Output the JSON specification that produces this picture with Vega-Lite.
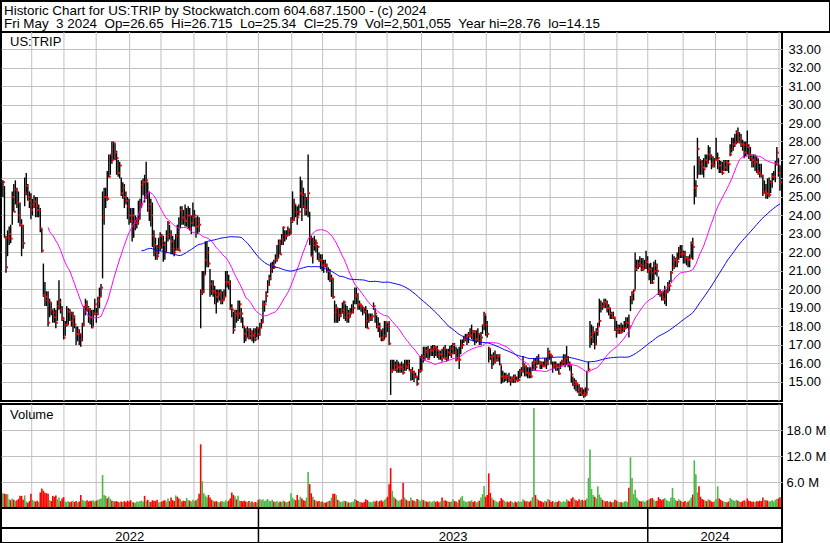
{
"$schema":"https://vega.github.io/schema/vega-lite/v6.json",
"padding":0,
"background":"white",
"spacing":0,
"bounds":"flush",
"config":{
"view":{"stroke":"black","strokeWidth":2},
"font":"Liberation Sans",
"axis":{"labelFont":"Liberation Sans","labelFontSize":13,"labelColor":"black","domain":false,"ticks":false,"gridColor":"#c0c0c0","gridWidth":1,"title":null,"labelOverlap":false,"labelBound":false},
"concat":{"spacing":0}
},
"datasets":{
"hdr":[{"n":1,"t":"Historic Chart for US:TRIP by Stockwatch.com 604.687.1500 - (c) 2024"},{"n":2,"t":"Fri May\u00a0 3 2024\u00a0 Op=26.65\u00a0 Hi=26.715\u00a0 Lo=25.34\u00a0 Cl=25.79\u00a0 Vol=2,501,055\u00a0 Year hi=28.76\u00a0 lo=14.15"}],
"mo":[{"g":18.5},{"g":39.2},{"g":59.9},{"g":81.4},{"g":101.5},{"g":122.7},{"g":143.8},{"g":164.1},{"g":185.5},{"g":205.3},{"g":226.7},{"g":246.7},{"g":268.8},{"g":289},{"g":310.4},{"g":332.1},{"g":351.4},{"g":373.3},{"g":394.3},{"g":414.1},{"g":436.8},{"g":457.6},{"g":477.8},{"g":498.4}],
"sep":[{"s":164.1},{"s":414.1}],
"yr":[{"y":"2022","m":81.4},{"y":"2023","m":289.1},{"y":"2024","m":457.3}],
"p":[
{"i":0,"h":25.9,"l":25.0,"c":25.8,"v":3.4},
{"i":1,"h":25.6,"l":22.8,"c":22.8,"v":3.3},
{"i":2,"h":22.9,"l":20.9,"c":21.2,"v":3.2},
{"i":3,"h":23.2,"l":21.8,"c":22.8,"v":3.2},
{"i":4,"h":23.4,"l":22.4,"c":23.0,"v":2.0},
{"i":5,"h":23.5,"l":22.5,"c":22.75,"v":1.8},
{"i":6,"h":25.3,"l":23.5,"c":25.0,"v":2.2},
{"i":7,"h":25.7,"l":24.2,"c":24.2,"v":1.9},
{"i":8,"h":25.9,"l":24.6,"c":25.4,"v":1.6},
{"i":9,"h":25.5,"l":24.4,"c":24.7,"v":1.8},
{"i":10,"h":25.3,"l":23.6,"c":24.0,"v":2.1},
{"i":11,"h":24.7,"l":23.4,"c":23.5,"v":2.8},
{"i":12,"h":23.8,"l":21.8,"c":23.4,"v":2.8},
{"i":13,"h":23.5,"l":22.2,"c":22.5,"v":1.9},
{"i":14,"h":26.05,"l":24.5,"c":25.2,"v":2.9},
{"i":15,"h":26.3,"l":25.1,"c":25.6,"v":1.5},
{"i":16,"h":25.7,"l":24.8,"c":25.0,"v":1.2},
{"i":17,"h":25.3,"l":24.4,"c":24.8,"v":1.6},
{"i":18,"h":25.2,"l":23.8,"c":24.3,"v":3.3},
{"i":19,"h":24.9,"l":24.0,"c":24.6,"v":1.9},
{"i":20,"h":25.1,"l":24.4,"c":24.75,"v":1.6},
{"i":21,"h":25.0,"l":23.9,"c":24.5,"v":1.5},
{"i":22,"h":25.0,"l":23.9,"c":24.3,"v":1.7},
{"i":23,"h":24.6,"l":23.9,"c":24.3,"v":1.4},
{"i":24,"h":24.4,"l":23.1,"c":23.3,"v":3.6},
{"i":25,"h":23.3,"l":22.0,"c":22.1,"v":4.5},
{"i":26,"h":21.4,"l":19.6,"c":19.7,"v":4.0},
{"i":27,"h":20.4,"l":19.1,"c":19.6,"v":3.5},
{"i":28,"h":19.9,"l":19.1,"c":19.4,"v":3.4},
{"i":29,"h":19.9,"l":18.0,"c":18.2,"v":3.3},
{"i":30,"h":19.5,"l":18.5,"c":19.3,"v":1.8},
{"i":31,"h":19.3,"l":18.6,"c":18.9,"v":1.6},
{"i":32,"h":18.9,"l":18.2,"c":18.75,"v":2.8},
{"i":33,"h":19.0,"l":18.2,"c":18.5,"v":2.6},
{"i":34,"h":18.9,"l":17.9,"c":18.2,"v":2.9},
{"i":35,"h":19.4,"l":18.3,"c":19.1,"v":2.0},
{"i":36,"h":20.5,"l":18.9,"c":19.3,"v":2.4},
{"i":37,"h":19.5,"l":18.7,"c":18.9,"v":1.6},
{"i":38,"h":19.1,"l":18.3,"c":18.4,"v":2.2},
{"i":39,"h":18.5,"l":17.3,"c":17.4,"v":2.5},
{"i":40,"h":18.3,"l":17.5,"c":18.1,"v":1.5},
{"i":41,"h":19.1,"l":18.0,"c":18.1,"v":1.4},
{"i":42,"h":19.0,"l":18.1,"c":18.8,"v":1.6},
{"i":43,"h":18.95,"l":18.3,"c":18.7,"v":1.3},
{"i":44,"h":18.8,"l":18.0,"c":18.3,"v":1.5},
{"i":45,"h":18.8,"l":17.7,"c":18.5,"v":1.7},
{"i":46,"h":18.6,"l":17.9,"c":18.1,"v":1.4},
{"i":47,"h":18.0,"l":17.0,"c":17.6,"v":1.6},
{"i":48,"h":18.0,"l":17.2,"c":17.8,"v":1.3},
{"i":49,"h":17.85,"l":17.0,"c":17.6,"v":1.5},
{"i":50,"h":17.6,"l":16.9,"c":17.3,"v":3.0},
{"i":51,"h":18.2,"l":17.2,"c":18.1,"v":1.9},
{"i":52,"h":19.1,"l":18.0,"c":19.07,"v":1.7},
{"i":53,"h":19.5,"l":18.6,"c":19.2,"v":1.6},
{"i":54,"h":19.4,"l":18.8,"c":19.0,"v":1.8},
{"i":55,"h":19.1,"l":18.2,"c":18.9,"v":1.5},
{"i":56,"h":19.0,"l":18.1,"c":18.5,"v":1.7},
{"i":57,"h":18.9,"l":17.9,"c":17.95,"v":1.6},
{"i":58,"h":18.9,"l":18.0,"c":18.7,"v":1.8},
{"i":59,"h":19.5,"l":18.6,"c":19.2,"v":1.5},
{"i":60,"h":19.0,"l":18.2,"c":18.7,"v":1.7},
{"i":61,"h":19.6,"l":18.6,"c":19.4,"v":1.9},
{"i":62,"h":20.1,"l":19.0,"c":19.6,"v":2.0},
{"i":63,"h":20.3,"l":19.6,"c":20.1,"v":2.2},
{"i":64,"h":25.3,"l":20.6,"c":23.9,"v":7.6},
{"i":65,"h":25.5,"l":23.5,"c":25.0,"v":3.0},
{"i":66,"h":25.5,"l":24.4,"c":25.0,"v":2.8},
{"i":67,"h":26.4,"l":24.8,"c":24.9,"v":2.2},
{"i":68,"h":27.3,"l":26.05,"c":26.1,"v":2.6},
{"i":69,"h":27.3,"l":26.2,"c":27.3,"v":2.1},
{"i":70,"h":28.0,"l":26.8,"c":27.0,"v":1.7},
{"i":71,"h":28.0,"l":27.0,"c":27.9,"v":1.6},
{"i":72,"h":27.9,"l":27.0,"c":27.4,"v":1.5},
{"i":73,"h":27.5,"l":26.2,"c":27.1,"v":1.6},
{"i":74,"h":27.0,"l":26.1,"c":26.3,"v":1.4},
{"i":75,"h":26.9,"l":26.0,"c":26.7,"v":1.3},
{"i":76,"h":26.05,"l":25.06,"c":25.2,"v":1.5},
{"i":77,"h":25.8,"l":24.9,"c":25.5,"v":1.4},
{"i":78,"h":25.7,"l":24.4,"c":25.0,"v":1.6},
{"i":79,"h":25.3,"l":24.6,"c":24.8,"v":1.3},
{"i":80,"h":25.0,"l":23.8,"c":24.5,"v":1.7},
{"i":81,"h":24.9,"l":23.5,"c":24.0,"v":1.5},
{"i":82,"h":24.4,"l":23.6,"c":23.7,"v":1.8},
{"i":83,"h":24.4,"l":22.6,"c":24.0,"v":1.4},
{"i":84,"h":24.4,"l":22.8,"c":23.4,"v":1.3},
{"i":85,"h":24.0,"l":23.2,"c":23.6,"v":1.2},
{"i":86,"h":23.9,"l":23.3,"c":23.6,"v":1.5},
{"i":87,"h":24.8,"l":23.5,"c":23.8,"v":1.4},
{"i":88,"h":24.9,"l":23.8,"c":24.6,"v":1.6},
{"i":89,"h":25.9,"l":24.4,"c":25.65,"v":1.7},
{"i":90,"h":26.0,"l":25.1,"c":25.8,"v":1.5},
{"i":91,"h":26.2,"l":24.7,"c":25.0,"v":2.8},
{"i":92,"h":26.9,"l":24.9,"c":25.9,"v":1.6},
{"i":93,"h":25.8,"l":24.2,"c":24.4,"v":1.9},
{"i":94,"h":25.3,"l":23.7,"c":24.6,"v":1.5},
{"i":95,"h":24.9,"l":23.4,"c":24.0,"v":1.4},
{"i":96,"h":24.7,"l":22.3,"c":22.9,"v":1.8},
{"i":97,"h":23.2,"l":21.8,"c":22.4,"v":1.7},
{"i":98,"h":22.8,"l":21.6,"c":22.0,"v":1.6},
{"i":99,"h":22.4,"l":21.6,"c":21.8,"v":1.9},
{"i":100,"h":22.8,"l":21.9,"c":22.3,"v":1.3},
{"i":101,"h":23.1,"l":22.1,"c":22.9,"v":1.4},
{"i":102,"h":23.0,"l":22.2,"c":22.6,"v":1.5},
{"i":103,"h":22.9,"l":21.5,"c":22.4,"v":1.7},
{"i":104,"h":22.6,"l":21.6,"c":22.0,"v":1.8},
{"i":105,"h":23.2,"l":22.0,"c":22.9,"v":1.5},
{"i":106,"h":23.7,"l":22.6,"c":23.6,"v":2.2},
{"i":107,"h":23.5,"l":22.7,"c":23.0,"v":1.6},
{"i":108,"h":23.2,"l":21.9,"c":22.6,"v":2.4},
{"i":109,"h":22.9,"l":21.9,"c":22.2,"v":1.8},
{"i":110,"h":22.7,"l":21.8,"c":22.0,"v":1.6},
{"i":111,"h":23.0,"l":22.1,"c":22.9,"v":2.9},
{"i":112,"h":23.5,"l":22.1,"c":22.2,"v":2.6},
{"i":113,"h":23.9,"l":22.1,"c":22.1,"v":2.2},
{"i":114,"h":24.5,"l":23.3,"c":24.3,"v":2.0},
{"i":115,"h":24.5,"l":23.5,"c":23.9,"v":1.5},
{"i":116,"h":24.3,"l":23.5,"c":23.8,"v":1.7},
{"i":117,"h":24.6,"l":23.4,"c":23.7,"v":1.6},
{"i":118,"h":24.4,"l":23.4,"c":24.0,"v":2.3},
{"i":119,"h":24.5,"l":23.3,"c":24.0,"v":1.8},
{"i":120,"h":24.4,"l":23.2,"c":23.3,"v":1.7},
{"i":121,"h":24.0,"l":23.0,"c":23.6,"v":1.5},
{"i":122,"h":24.7,"l":23.4,"c":23.9,"v":1.9},
{"i":123,"h":24.3,"l":23.4,"c":24.0,"v":1.6},
{"i":124,"h":23.9,"l":22.8,"c":23.4,"v":1.8},
{"i":125,"h":24.0,"l":23.0,"c":23.7,"v":2.2},
{"i":126,"h":23.9,"l":23.1,"c":23.5,"v":3.3},
{"i":127,"h":20.0,"l":17.9,"c":19.8,"v":14.7},
{"i":128,"h":21.0,"l":19.7,"c":19.9,"v":6.2},
{"i":129,"h":21.0,"l":19.8,"c":20.8,"v":3.4},
{"i":130,"h":22.6,"l":20.8,"c":21.6,"v":2.9},
{"i":131,"h":22.6,"l":21.2,"c":22.0,"v":2.5},
{"i":132,"h":22.3,"l":21.2,"c":21.4,"v":3.0},
{"i":133,"h":21.1,"l":19.6,"c":20.3,"v":2.4},
{"i":134,"h":20.5,"l":19.7,"c":19.9,"v":1.9},
{"i":135,"h":20.5,"l":19.6,"c":19.9,"v":1.7},
{"i":136,"h":20.2,"l":19.2,"c":19.8,"v":1.5},
{"i":137,"h":20.0,"l":18.7,"c":19.6,"v":1.6},
{"i":138,"h":20.0,"l":19.3,"c":19.7,"v":1.4},
{"i":139,"h":20.0,"l":19.4,"c":19.8,"v":1.3},
{"i":140,"h":20.0,"l":19.2,"c":19.4,"v":1.5},
{"i":141,"h":19.9,"l":19.2,"c":19.4,"v":1.6},
{"i":142,"h":20.0,"l":19.4,"c":19.6,"v":1.4},
{"i":143,"h":21.0,"l":19.6,"c":20.4,"v":1.8},
{"i":144,"h":21.0,"l":20.1,"c":20.4,"v":1.5},
{"i":145,"h":20.8,"l":20.0,"c":20.3,"v":1.7},
{"i":146,"h":20.5,"l":18.9,"c":19.0,"v":2.2},
{"i":147,"h":19.2,"l":18.5,"c":18.9,"v":3.6},
{"i":148,"h":18.8,"l":17.6,"c":17.8,"v":3.0},
{"i":149,"h":18.9,"l":17.9,"c":18.7,"v":2.7},
{"i":150,"h":18.9,"l":18.2,"c":18.6,"v":2.0},
{"i":151,"h":19.4,"l":18.3,"c":18.7,"v":2.8},
{"i":152,"h":19.4,"l":18.4,"c":19.2,"v":1.7},
{"i":153,"h":19.0,"l":18.2,"c":18.7,"v":1.6},
{"i":154,"h":18.5,"l":17.9,"c":18.0,"v":1.5},
{"i":155,"h":18.0,"l":17.1,"c":17.6,"v":1.7},
{"i":156,"h":17.9,"l":17.2,"c":17.4,"v":1.5},
{"i":157,"h":18.0,"l":17.4,"c":17.8,"v":1.4},
{"i":158,"h":17.9,"l":17.3,"c":17.5,"v":1.6},
{"i":159,"h":17.9,"l":17.3,"c":17.7,"v":1.3},
{"i":160,"h":17.8,"l":17.2,"c":17.5,"v":1.5},
{"i":161,"h":17.9,"l":17.1,"c":17.6,"v":1.2},
{"i":162,"h":17.9,"l":17.2,"c":17.3,"v":1.4},
{"i":163,"h":18.0,"l":17.4,"c":17.9,"v":1.3},
{"i":164,"h":17.95,"l":17.3,"c":17.6,"v":1.9},
{"i":165,"h":18.2,"l":17.5,"c":17.94,"v":2.1},
{"i":166,"h":18.4,"l":17.9,"c":18.2,"v":1.8},
{"i":167,"h":19.4,"l":18.2,"c":19.2,"v":2.0},
{"i":168,"h":19.4,"l":18.8,"c":19.2,"v":1.6},
{"i":169,"h":19.9,"l":19.3,"c":19.65,"v":1.8},
{"i":170,"h":20.5,"l":19.8,"c":20.25,"v":2.1},
{"i":171,"h":20.8,"l":20.2,"c":20.6,"v":1.7},
{"i":172,"h":21.45,"l":20.5,"c":21.1,"v":1.6},
{"i":173,"h":21.5,"l":20.9,"c":21.3,"v":1.9},
{"i":174,"h":21.6,"l":21.1,"c":21.2,"v":1.5},
{"i":175,"h":21.9,"l":21.4,"c":21.6,"v":1.4},
{"i":176,"h":22.4,"l":21.5,"c":21.7,"v":1.6},
{"i":177,"h":22.7,"l":21.7,"c":22.5,"v":1.3},
{"i":178,"h":22.7,"l":21.9,"c":21.9,"v":1.5},
{"i":179,"h":23.0,"l":22.4,"c":22.7,"v":1.4},
{"i":180,"h":23.4,"l":22.4,"c":23.35,"v":1.7},
{"i":181,"h":23.2,"l":22.6,"c":22.9,"v":1.5},
{"i":182,"h":23.2,"l":22.7,"c":22.9,"v":1.3},
{"i":183,"h":23.4,"l":22.9,"c":23.2,"v":1.4},
{"i":184,"h":23.3,"l":22.9,"c":23.0,"v":1.6},
{"i":185,"h":23.9,"l":23.0,"c":23.7,"v":3.4},
{"i":186,"h":25.3,"l":23.6,"c":23.8,"v":2.4},
{"i":187,"h":24.9,"l":23.7,"c":24.6,"v":2.0},
{"i":188,"h":24.6,"l":23.9,"c":24.2,"v":1.8},
{"i":189,"h":24.5,"l":23.5,"c":23.9,"v":3.0},
{"i":190,"h":24.6,"l":24.0,"c":24.2,"v":1.9},
{"i":191,"h":26.1,"l":24.4,"c":25.2,"v":2.6},
{"i":192,"h":25.9,"l":23.7,"c":25.1,"v":2.2},
{"i":193,"h":25.5,"l":24.4,"c":24.5,"v":1.8},
{"i":194,"h":25.2,"l":24.0,"c":24.3,"v":1.7},
{"i":195,"h":25.0,"l":24.0,"c":24.9,"v":2.4},
{"i":196,"h":27.3,"l":23.9,"c":25.2,"v":8.3},
{"i":197,"h":24.2,"l":22.4,"c":22.8,"v":5.5},
{"i":198,"h":22.9,"l":21.8,"c":21.8,"v":3.4},
{"i":199,"h":22.8,"l":21.4,"c":22.6,"v":2.6},
{"i":200,"h":22.9,"l":22.1,"c":22.4,"v":1.9},
{"i":201,"h":22.7,"l":22.0,"c":22.5,"v":1.7},
{"i":202,"h":22.4,"l":21.6,"c":22.3,"v":1.5},
{"i":203,"h":22.0,"l":21.5,"c":21.6,"v":1.6},
{"i":204,"h":21.9,"l":21.1,"c":21.6,"v":1.4},
{"i":205,"h":21.9,"l":21.0,"c":21.3,"v":1.5},
{"i":206,"h":21.6,"l":20.9,"c":21.4,"v":1.3},
{"i":207,"h":21.6,"l":21.2,"c":21.3,"v":1.2},
{"i":208,"h":21.4,"l":20.9,"c":21.0,"v":1.4},
{"i":209,"h":21.2,"l":20.5,"c":21.0,"v":1.6},
{"i":210,"h":21.1,"l":20.4,"c":20.6,"v":1.7},
{"i":211,"h":20.8,"l":19.6,"c":20.6,"v":2.4},
{"i":212,"h":20.6,"l":19.5,"c":19.6,"v":3.3},
{"i":213,"h":19.4,"l":18.2,"c":18.75,"v":3.3},
{"i":214,"h":19.2,"l":18.2,"c":19.0,"v":3.0},
{"i":215,"h":19.0,"l":18.2,"c":18.6,"v":1.9},
{"i":216,"h":19.0,"l":18.3,"c":18.6,"v":1.6},
{"i":217,"h":19.0,"l":18.5,"c":18.75,"v":1.4},
{"i":218,"h":19.3,"l":18.7,"c":18.9,"v":1.5},
{"i":219,"h":19.4,"l":18.4,"c":19.3,"v":1.7},
{"i":220,"h":19.2,"l":18.3,"c":18.5,"v":1.6},
{"i":221,"h":19.1,"l":18.2,"c":18.7,"v":1.4},
{"i":222,"h":18.9,"l":18.2,"c":18.5,"v":1.3},
{"i":223,"h":19.0,"l":18.5,"c":18.7,"v":1.2},
{"i":224,"h":19.2,"l":18.7,"c":18.8,"v":1.4},
{"i":225,"h":19.4,"l":18.7,"c":19.0,"v":1.5},
{"i":226,"h":20.1,"l":19.2,"c":19.7,"v":2.1},
{"i":227,"h":20.1,"l":19.2,"c":19.6,"v":1.8},
{"i":228,"h":19.8,"l":18.9,"c":19.2,"v":1.6},
{"i":229,"h":19.4,"l":18.9,"c":19.2,"v":1.4},
{"i":230,"h":19.2,"l":18.8,"c":19.1,"v":1.3},
{"i":231,"h":19.1,"l":18.6,"c":19.0,"v":1.2},
{"i":232,"h":19.0,"l":18.7,"c":18.8,"v":1.4},
{"i":233,"h":19.1,"l":17.9,"c":18.3,"v":2.0},
{"i":234,"h":18.9,"l":17.9,"c":17.9,"v":1.8},
{"i":235,"h":18.7,"l":18.2,"c":18.4,"v":1.5},
{"i":236,"h":18.7,"l":18.3,"c":18.5,"v":1.4},
{"i":237,"h":18.7,"l":18.3,"c":18.55,"v":1.3},
{"i":238,"h":19.3,"l":18.9,"c":19.1,"v":1.6},
{"i":239,"h":19.0,"l":18.2,"c":18.7,"v":1.5},
{"i":240,"h":18.6,"l":17.9,"c":18.0,"v":1.7},
{"i":241,"h":18.5,"l":17.7,"c":18.0,"v":1.4},
{"i":242,"h":18.2,"l":17.4,"c":17.8,"v":1.6},
{"i":243,"h":17.8,"l":17.2,"c":17.4,"v":1.8},
{"i":244,"h":17.9,"l":17.2,"c":17.3,"v":1.5},
{"i":245,"h":18.3,"l":17.3,"c":17.5,"v":1.9},
{"i":246,"h":18.3,"l":17.4,"c":18.2,"v":2.2},
{"i":247,"h":18.2,"l":17.7,"c":18.0,"v":2.6},
{"i":248,"h":18.3,"l":17.0,"c":17.07,"v":5.5},
{"i":249,"h":16.2,"l":14.3,"c":15.6,"v":9.2},
{"i":250,"h":16.2,"l":15.5,"c":15.65,"v":4.0},
{"i":251,"h":16.2,"l":15.6,"c":15.9,"v":2.6},
{"i":252,"h":16.1,"l":15.6,"c":15.7,"v":2.2},
{"i":253,"h":16.2,"l":15.5,"c":15.8,"v":1.9},
{"i":254,"h":16.1,"l":15.5,"c":15.8,"v":1.6},
{"i":255,"h":16.0,"l":15.5,"c":15.8,"v":1.8},
{"i":256,"h":16.1,"l":15.5,"c":15.7,"v":2.0},
{"i":257,"h":16.0,"l":15.4,"c":15.5,"v":5.8},
{"i":258,"h":16.2,"l":15.6,"c":15.9,"v":2.4},
{"i":259,"h":16.2,"l":15.6,"c":15.8,"v":1.9},
{"i":260,"h":16.2,"l":15.7,"c":16.0,"v":1.7},
{"i":261,"h":16.2,"l":15.6,"c":15.6,"v":1.6},
{"i":262,"h":15.7,"l":15.06,"c":15.6,"v":2.4},
{"i":263,"h":15.8,"l":15.1,"c":15.5,"v":1.8},
{"i":264,"h":15.6,"l":15.0,"c":15.3,"v":1.7},
{"i":265,"h":15.5,"l":15.2,"c":15.3,"v":1.5},
{"i":266,"h":15.3,"l":14.8,"c":14.9,"v":2.1},
{"i":267,"h":15.7,"l":15.1,"c":15.6,"v":1.9},
{"i":268,"h":16.4,"l":15.5,"c":15.6,"v":1.6},
{"i":269,"h":16.5,"l":15.6,"c":16.4,"v":2.0},
{"i":270,"h":16.9,"l":16.05,"c":16.2,"v":1.8},
{"i":271,"h":16.9,"l":16.2,"c":16.7,"v":1.7},
{"i":272,"h":16.9,"l":16.3,"c":16.6,"v":1.5},
{"i":273,"h":16.95,"l":16.2,"c":16.25,"v":1.4},
{"i":274,"h":16.8,"l":16.3,"c":16.7,"v":1.6},
{"i":275,"h":16.95,"l":16.4,"c":16.7,"v":1.3},
{"i":276,"h":17.0,"l":16.4,"c":16.8,"v":1.5},
{"i":277,"h":17.0,"l":16.3,"c":16.9,"v":1.7},
{"i":278,"h":16.95,"l":16.4,"c":16.8,"v":1.4},
{"i":279,"h":16.95,"l":16.3,"c":16.7,"v":1.6},
{"i":280,"h":16.7,"l":16.2,"c":16.5,"v":1.3},
{"i":281,"h":16.7,"l":16.2,"c":16.5,"v":1.5},
{"i":282,"h":16.8,"l":16.1,"c":16.3,"v":2.4},
{"i":283,"h":16.9,"l":16.3,"c":16.8,"v":1.7},
{"i":284,"h":17.0,"l":16.2,"c":16.3,"v":1.8},
{"i":285,"h":16.8,"l":16.1,"c":16.2,"v":1.6},
{"i":286,"h":16.8,"l":16.2,"c":16.6,"v":1.5},
{"i":287,"h":16.95,"l":16.4,"c":16.5,"v":1.4},
{"i":288,"h":17.0,"l":16.3,"c":16.8,"v":1.5},
{"i":289,"h":17.1,"l":16.5,"c":17.0,"v":2.0},
{"i":290,"h":17.1,"l":16.5,"c":16.6,"v":1.6},
{"i":291,"h":16.9,"l":16.1,"c":16.2,"v":1.5},
{"i":292,"h":16.8,"l":16.2,"c":16.3,"v":1.3},
{"i":293,"h":16.9,"l":15.7,"c":16.2,"v":1.9},
{"i":294,"h":17.3,"l":16.5,"c":16.9,"v":2.4},
{"i":295,"h":17.3,"l":16.8,"c":17.0,"v":2.8},
{"i":296,"h":17.5,"l":17.1,"c":17.3,"v":1.7},
{"i":297,"h":17.6,"l":17.2,"c":17.4,"v":1.5},
{"i":298,"h":17.6,"l":17.0,"c":17.5,"v":1.4},
{"i":299,"h":17.7,"l":17.1,"c":17.6,"v":1.6},
{"i":300,"h":17.9,"l":17.4,"c":17.5,"v":1.5},
{"i":301,"h":18.1,"l":17.3,"c":17.76,"v":1.8},
{"i":302,"h":17.8,"l":17.2,"c":17.7,"v":1.4},
{"i":303,"h":17.8,"l":17.0,"c":17.3,"v":1.6},
{"i":304,"h":17.8,"l":17.1,"c":17.3,"v":1.3},
{"i":305,"h":17.9,"l":17.2,"c":17.6,"v":1.5},
{"i":306,"h":17.6,"l":17.0,"c":17.2,"v":1.7},
{"i":307,"h":17.7,"l":17.0,"c":17.4,"v":2.4},
{"i":308,"h":18.1,"l":17.6,"c":18.07,"v":3.2},
{"i":309,"h":18.8,"l":17.8,"c":18.66,"v":5.1},
{"i":310,"h":18.6,"l":17.5,"c":18.1,"v":2.6},
{"i":311,"h":18.3,"l":17.4,"c":17.6,"v":3.0},
{"i":312,"h":16.9,"l":16.05,"c":16.8,"v":8.0},
{"i":313,"h":16.8,"l":16.2,"c":16.35,"v":3.5},
{"i":314,"h":16.5,"l":15.7,"c":16.4,"v":2.4},
{"i":315,"h":16.6,"l":15.9,"c":16.1,"v":1.9},
{"i":316,"h":16.7,"l":16.0,"c":16.2,"v":1.7},
{"i":317,"h":16.5,"l":16.1,"c":16.4,"v":1.5},
{"i":318,"h":16.5,"l":16.1,"c":16.4,"v":1.3},
{"i":319,"h":16.5,"l":15.9,"c":15.95,"v":1.6},
{"i":320,"h":15.9,"l":14.9,"c":15.3,"v":2.3},
{"i":321,"h":15.6,"l":14.95,"c":15.2,"v":1.9},
{"i":322,"h":15.5,"l":15.0,"c":15.3,"v":1.7},
{"i":323,"h":15.5,"l":15.05,"c":15.3,"v":1.4},
{"i":324,"h":15.4,"l":14.95,"c":15.2,"v":1.5},
{"i":325,"h":15.5,"l":15.0,"c":15.1,"v":1.3},
{"i":326,"h":15.3,"l":14.8,"c":15.06,"v":1.6},
{"i":327,"h":15.3,"l":14.95,"c":15.2,"v":1.4},
{"i":328,"h":15.4,"l":14.95,"c":15.3,"v":1.2},
{"i":329,"h":15.4,"l":14.95,"c":15.1,"v":1.5},
{"i":330,"h":15.3,"l":15.05,"c":15.05,"v":1.3},
{"i":331,"h":15.6,"l":15.05,"c":15.1,"v":1.6},
{"i":332,"h":15.7,"l":15.2,"c":15.56,"v":1.4},
{"i":333,"h":15.8,"l":15.3,"c":15.6,"v":1.5},
{"i":334,"h":16.4,"l":15.5,"c":15.9,"v":2.0},
{"i":335,"h":16.0,"l":15.3,"c":15.8,"v":1.7},
{"i":336,"h":15.9,"l":15.3,"c":15.5,"v":1.5},
{"i":337,"h":15.8,"l":15.2,"c":15.5,"v":1.6},
{"i":338,"h":15.8,"l":15.2,"c":15.4,"v":1.4},
{"i":339,"h":15.8,"l":15.2,"c":15.3,"v":1.7},
{"i":340,"h":16.1,"l":15.6,"c":16.0,"v":2.5},
{"i":341,"h":16.3,"l":15.6,"c":16.1,"v":23.1},
{"i":342,"h":16.3,"l":15.6,"c":15.8,"v":3.0},
{"i":343,"h":16.4,"l":15.9,"c":16.3,"v":2.2},
{"i":344,"h":16.5,"l":15.95,"c":16.1,"v":1.8},
{"i":345,"h":16.1,"l":15.7,"c":16.0,"v":1.6},
{"i":346,"h":16.1,"l":15.7,"c":15.9,"v":1.5},
{"i":347,"h":16.1,"l":15.8,"c":15.86,"v":1.3},
{"i":348,"h":16.3,"l":15.8,"c":16.1,"v":1.7},
{"i":349,"h":16.3,"l":15.7,"c":16.0,"v":1.5},
{"i":350,"h":16.85,"l":15.9,"c":16.58,"v":2.1},
{"i":351,"h":16.7,"l":16.2,"c":16.5,"v":1.8},
{"i":352,"h":16.5,"l":15.95,"c":16.4,"v":1.4},
{"i":353,"h":16.1,"l":15.5,"c":15.8,"v":1.6},
{"i":354,"h":16.1,"l":15.7,"c":15.9,"v":1.3},
{"i":355,"h":16.1,"l":15.6,"c":15.9,"v":1.5},
{"i":356,"h":16.0,"l":15.6,"c":15.8,"v":1.4},
{"i":357,"h":16.0,"l":15.4,"c":15.45,"v":1.7},
{"i":358,"h":16.1,"l":15.7,"c":15.9,"v":1.5},
{"i":359,"h":16.2,"l":15.9,"c":16.1,"v":1.3},
{"i":360,"h":16.5,"l":15.9,"c":16.1,"v":1.6},
{"i":361,"h":16.5,"l":15.8,"c":16.3,"v":1.4},
{"i":362,"h":16.94,"l":15.9,"c":16.35,"v":2.0},
{"i":363,"h":16.4,"l":15.8,"c":16.0,"v":1.7},
{"i":364,"h":16.1,"l":15.6,"c":15.9,"v":1.5},
{"i":365,"h":15.9,"l":14.96,"c":15.4,"v":2.2},
{"i":366,"h":15.3,"l":14.78,"c":14.87,"v":2.5},
{"i":367,"h":15.2,"l":14.6,"c":15.0,"v":2.1},
{"i":368,"h":15.1,"l":14.5,"c":14.9,"v":1.8},
{"i":369,"h":14.96,"l":14.42,"c":14.6,"v":1.6},
{"i":370,"h":14.87,"l":14.24,"c":14.42,"v":2.0},
{"i":371,"h":14.7,"l":14.24,"c":14.6,"v":1.7},
{"i":372,"h":14.7,"l":14.24,"c":14.3,"v":1.9},
{"i":373,"h":14.6,"l":14.15,"c":14.4,"v":1.6},
{"i":374,"h":14.7,"l":14.2,"c":14.3,"v":1.8},
{"i":375,"h":15.6,"l":14.33,"c":14.6,"v":2.2},
{"i":376,"h":16.1,"l":15.6,"c":15.68,"v":6.9},
{"i":377,"h":18.3,"l":16.85,"c":17.43,"v":13.5},
{"i":378,"h":18.1,"l":17.0,"c":17.6,"v":4.4},
{"i":379,"h":18.0,"l":17.1,"c":17.7,"v":3.0},
{"i":380,"h":17.75,"l":16.76,"c":17.03,"v":2.6},
{"i":381,"h":17.9,"l":17.0,"c":17.75,"v":2.2},
{"i":382,"h":18.2,"l":17.5,"c":18.0,"v":5.0},
{"i":383,"h":19.5,"l":18.0,"c":18.3,"v":3.1},
{"i":384,"h":19.4,"l":18.75,"c":19.1,"v":2.4},
{"i":385,"h":19.3,"l":18.9,"c":19.05,"v":1.9},
{"i":386,"h":19.5,"l":19.0,"c":19.3,"v":1.7},
{"i":387,"h":19.5,"l":19.0,"c":19.2,"v":1.5},
{"i":388,"h":19.4,"l":18.75,"c":19.0,"v":1.6},
{"i":389,"h":19.2,"l":18.6,"c":19.0,"v":1.4},
{"i":390,"h":19.0,"l":18.4,"c":18.7,"v":1.5},
{"i":391,"h":18.8,"l":18.4,"c":18.5,"v":1.3},
{"i":392,"h":18.8,"l":18.4,"c":18.5,"v":1.4},
{"i":393,"h":18.5,"l":17.75,"c":17.84,"v":1.9},
{"i":394,"h":18.3,"l":17.4,"c":17.7,"v":1.7},
{"i":395,"h":18.1,"l":17.6,"c":17.85,"v":1.5},
{"i":396,"h":18.1,"l":17.6,"c":17.9,"v":1.3},
{"i":397,"h":18.2,"l":17.6,"c":17.7,"v":1.4},
{"i":398,"h":18.1,"l":17.7,"c":17.85,"v":1.2},
{"i":399,"h":18.3,"l":17.7,"c":17.9,"v":1.5},
{"i":400,"h":18.5,"l":17.85,"c":18.2,"v":1.6},
{"i":401,"h":18.5,"l":17.9,"c":18.2,"v":1.4},
{"i":402,"h":18.65,"l":17.4,"c":18.0,"v":4.7},
{"i":403,"h":19.65,"l":18.83,"c":19.55,"v":11.7},
{"i":404,"h":19.9,"l":19.2,"c":19.8,"v":6.9},
{"i":405,"h":20.0,"l":19.4,"c":19.95,"v":3.2},
{"i":406,"h":22.0,"l":20.0,"c":21.1,"v":4.2},
{"i":407,"h":21.6,"l":21.0,"c":21.27,"v":2.4},
{"i":408,"h":21.6,"l":21.1,"c":21.4,"v":1.9},
{"i":409,"h":21.8,"l":21.2,"c":21.3,"v":1.6},
{"i":410,"h":21.7,"l":21.0,"c":21.1,"v":1.5},
{"i":411,"h":21.7,"l":21.0,"c":21.1,"v":1.7},
{"i":412,"h":21.6,"l":21.1,"c":21.3,"v":1.4},
{"i":413,"h":22.1,"l":21.1,"c":21.5,"v":1.6},
{"i":414,"h":21.8,"l":20.9,"c":21.0,"v":1.8},
{"i":415,"h":21.4,"l":20.5,"c":21.1,"v":2.0},
{"i":416,"h":21.45,"l":20.3,"c":20.9,"v":2.2},
{"i":417,"h":21.2,"l":20.3,"c":20.37,"v":2.3},
{"i":418,"h":21.5,"l":20.5,"c":21.0,"v":1.9},
{"i":419,"h":21.6,"l":20.8,"c":21.3,"v":1.6},
{"i":420,"h":21.4,"l":20.7,"c":21.0,"v":1.7},
{"i":421,"h":20.7,"l":19.7,"c":19.9,"v":2.5},
{"i":422,"h":20.0,"l":19.6,"c":19.8,"v":2.1},
{"i":423,"h":19.9,"l":19.4,"c":19.6,"v":1.8},
{"i":424,"h":19.9,"l":19.4,"c":19.47,"v":2.0},
{"i":425,"h":20.2,"l":19.2,"c":19.8,"v":2.3},
{"i":426,"h":20.0,"l":19.1,"c":19.9,"v":1.9},
{"i":427,"h":20.4,"l":19.8,"c":20.2,"v":1.7},
{"i":428,"h":20.5,"l":19.9,"c":20.2,"v":1.5},
{"i":429,"h":21.0,"l":20.4,"c":20.9,"v":2.4},
{"i":430,"h":21.9,"l":21.0,"c":21.2,"v":4.6},
{"i":431,"h":21.8,"l":21.1,"c":21.6,"v":2.3},
{"i":432,"h":21.7,"l":21.2,"c":21.7,"v":1.8},
{"i":433,"h":22.0,"l":21.2,"c":21.5,"v":1.6},
{"i":434,"h":22.3,"l":21.6,"c":22.1,"v":2.0},
{"i":435,"h":22.4,"l":21.7,"c":21.9,"v":1.7},
{"i":436,"h":22.4,"l":21.7,"c":21.95,"v":1.5},
{"i":437,"h":22.1,"l":21.4,"c":21.9,"v":1.4},
{"i":438,"h":22.1,"l":21.4,"c":21.7,"v":1.6},
{"i":439,"h":21.8,"l":21.3,"c":21.7,"v":1.3},
{"i":440,"h":21.8,"l":21.2,"c":21.6,"v":1.5},
{"i":441,"h":21.9,"l":21.2,"c":21.7,"v":1.8},
{"i":442,"h":22.6,"l":21.7,"c":22.5,"v":2.4},
{"i":443,"h":22.8,"l":21.6,"c":22.3,"v":3.1},
{"i":444,"h":26.7,"l":24.6,"c":25.5,"v":11.0},
{"i":445,"h":25.9,"l":25.0,"c":25.6,"v":7.8},
{"i":446,"h":28.2,"l":26.0,"c":27.6,"v":3.6},
{"i":447,"h":27.2,"l":26.2,"c":27.0,"v":5.0},
{"i":448,"h":27.0,"l":26.2,"c":26.77,"v":2.6},
{"i":449,"h":27.0,"l":26.2,"c":26.6,"v":2.1},
{"i":450,"h":27.1,"l":26.05,"c":26.5,"v":1.9},
{"i":451,"h":27.3,"l":26.6,"c":27.0,"v":1.7},
{"i":452,"h":27.3,"l":26.6,"c":26.9,"v":1.6},
{"i":453,"h":27.8,"l":26.8,"c":27.3,"v":2.0},
{"i":454,"h":27.7,"l":27.0,"c":27.2,"v":1.8},
{"i":455,"h":27.3,"l":26.5,"c":26.8,"v":1.5},
{"i":456,"h":27.2,"l":26.6,"c":26.7,"v":1.4},
{"i":457,"h":27.1,"l":26.6,"c":27.0,"v":1.6},
{"i":458,"h":28.2,"l":27.0,"c":27.0,"v":2.1},
{"i":459,"h":27.4,"l":26.5,"c":27.1,"v":5.0},
{"i":460,"h":27.0,"l":26.3,"c":26.7,"v":2.2},
{"i":461,"h":26.95,"l":26.3,"c":26.4,"v":1.9},
{"i":462,"h":26.9,"l":26.2,"c":26.3,"v":1.6},
{"i":463,"h":27.0,"l":26.4,"c":26.6,"v":1.5},
{"i":464,"h":27.0,"l":26.4,"c":26.9,"v":1.4},
{"i":465,"h":27.0,"l":26.4,"c":26.85,"v":1.3},
{"i":466,"h":27.0,"l":26.3,"c":26.77,"v":1.5},
{"i":467,"h":27.85,"l":27.2,"c":27.3,"v":2.3},
{"i":468,"h":28.2,"l":27.4,"c":27.6,"v":2.0},
{"i":469,"h":28.2,"l":27.5,"c":27.85,"v":1.8},
{"i":470,"h":28.4,"l":27.7,"c":27.94,"v":1.6},
{"i":471,"h":28.6,"l":27.85,"c":28.5,"v":1.9},
{"i":472,"h":28.76,"l":27.9,"c":28.0,"v":1.7},
{"i":473,"h":28.5,"l":27.9,"c":28.2,"v":1.5},
{"i":474,"h":28.4,"l":27.7,"c":27.85,"v":1.4},
{"i":475,"h":28.1,"l":27.5,"c":27.8,"v":1.6},
{"i":476,"h":28.0,"l":27.1,"c":27.4,"v":1.8},
{"i":477,"h":28.0,"l":27.2,"c":27.85,"v":1.5},
{"i":478,"h":28.6,"l":27.3,"c":27.7,"v":2.2},
{"i":479,"h":27.85,"l":27.05,"c":27.3,"v":1.7},
{"i":480,"h":27.7,"l":26.95,"c":27.1,"v":1.6},
{"i":481,"h":27.3,"l":26.6,"c":27.0,"v":1.4},
{"i":482,"h":27.3,"l":26.6,"c":26.8,"v":1.5},
{"i":483,"h":27.3,"l":26.4,"c":26.9,"v":1.3},
{"i":484,"h":27.2,"l":26.3,"c":26.4,"v":1.6},
{"i":485,"h":27.1,"l":26.2,"c":26.3,"v":1.5},
{"i":486,"h":26.8,"l":26.05,"c":26.2,"v":1.7},
{"i":487,"h":26.8,"l":26.05,"c":26.15,"v":1.6},
{"i":488,"h":26.2,"l":25.05,"c":25.2,"v":2.4},
{"i":489,"h":25.9,"l":25.2,"c":25.3,"v":1.9},
{"i":490,"h":25.7,"l":24.9,"c":25.2,"v":1.8},
{"i":491,"h":26.0,"l":24.9,"c":25.1,"v":1.7},
{"i":492,"h":26.05,"l":25.0,"c":25.1,"v":1.5},
{"i":493,"h":25.9,"l":25.2,"c":25.8,"v":1.6},
{"i":494,"h":26.3,"l":25.5,"c":26.1,"v":1.8},
{"i":495,"h":26.4,"l":25.9,"c":26.1,"v":1.5},
{"i":496,"h":26.95,"l":25.8,"c":26.8,"v":1.9},
{"i":497,"h":27.7,"l":26.7,"c":27.4,"v":2.1},
{"i":498,"h":27.1,"l":26.1,"c":26.3,"v":2.2},
{"i":499,"h":26.715,"l":25.34,"c":25.79,"v":2.5}
]
},
"vconcat":[
{
"width":829,"height":31,
"data":{"name":"hdr"},
"mark":{"type":"text","align":"left","baseline":"middle","dx":3,"dy":1,"fontSize":13.4,"font":"Liberation Sans","color":"black"},
"encoding":{
"x":{"datum":0,"type":"quantitative","scale":{"domain":[0,1]},"axis":null},
"y":{"field":"n","type":"ordinal","scale":{"type":"point","padding":0.65},"axis":null},
"text":{"field":"t"}
}
},
{
"width":781,"height":369,
"layer":[
{"data":{"name":"mo"},"mark":{"type":"rule","color":"#c0c0c0","strokeWidth":1},
"encoding":{"x":{"field":"g","type":"quantitative","scale":{"domain":[-1.22,500.3],"nice":false,"zero":false},"axis":null}}},
{"data":{"name":"p"},"mark":{"type":"rule","color":"black","strokeWidth":1.4},
"encoding":{
"x":{"field":"i","type":"quantitative"},
"y":{"field":"l","type":"quantitative","scale":{"domain":[13.97,33.92],"nice":false,"zero":false},
"axis":{"orient":"right","values":[15,16,17,18,19,20,21,22,23,24,25,26,27,28,29,30,31,32,33],"tickCount":40,"format":".2f","grid":true,"labelPadding":6,"labelOverlap":false}},
"y2":{"field":"h"}}},
{"data":{"name":"p"},"mark":{"type":"point","shape":"square","filled":true,"color":"#ff0000","size":4,"strokeWidth":0,"opacity":1,"xOffset":1},
"encoding":{"x":{"field":"i","type":"quantitative"},"y":{"field":"c","type":"quantitative"}}},
{"data":{"name":"p"},"transform":[{"window":[{"op":"mean","field":"c","as":"ma"},{"op":"count","as":"n"}],"frame":[-29,0],"sort":[{"field":"i"}]},{"filter":"datum.n >= 30"}],
"mark":{"type":"line","color":"#ff00ff","strokeWidth":1},
"encoding":{"x":{"field":"i","type":"quantitative"},"y":{"field":"ma","type":"quantitative"}}},
{"data":{"name":"p"},"transform":[{"window":[{"op":"mean","field":"c","as":"mb"},{"op":"count","as":"n"}],"frame":[-89,0],"sort":[{"field":"i"}]},{"filter":"datum.n >= 90"}],
"mark":{"type":"line","color":"#0000ff","strokeWidth":1},
"encoding":{"x":{"field":"i","type":"quantitative"},"y":{"field":"mb","type":"quantitative"}}},
{"data":{"values":[{"t":"US:TRIP"}]},
"mark":{"type":"text","align":"left","baseline":"middle","fontSize":13,"font":"Liberation Sans","color":"black"},
"encoding":{"x":{"datum":4.6,"type":"quantitative"},"y":{"datum":33.4,"type":"quantitative"},"text":{"field":"t"}}}
]
},
{
"width":781,"height":3,
"view":{"stroke":null},
"data":{"values":[{"t":""}]},
"mark":{"type":"text","opacity":0},
"encoding":{"text":{"field":"t"}}
},
{
"width":781,"height":104,
"layer":[
{"data":{"name":"mo"},"mark":{"type":"rule","color":"#c0c0c0","strokeWidth":1},
"encoding":{"x":{"field":"g","type":"quantitative","scale":{"domain":[-1.22,500.3],"nice":false,"zero":false},"axis":null}}},
{"data":{"name":"p"},"transform":[{"window":[{"op":"lag","field":"c","as":"pc"}],"sort":[{"field":"i"}]}],
"mark":{"type":"rule","strokeWidth":1.6},
"encoding":{
"x":{"field":"i","type":"quantitative"},
"y":{"field":"v","type":"quantitative","scale":{"domain":[0,24],"nice":false,"zero":false},
"axis":{"orient":"right","values":[6,12,18],"tickCount":10,"labelExpr":"format(datum.value,'.1f') + ' M'","grid":true,"labelPadding":4,"labelOverlap":false}},
"y2":{"datum":0},
"color":{"condition":{"test":"datum.pc == null || datum.c >= datum.pc","value":"#4cb848"},"value":"#ff0000"}}},
{"data":{"values":[{"t":"Volume"}]},
"mark":{"type":"text","align":"left","baseline":"middle","fontSize":13,"font":"Liberation Sans","color":"black"},
"encoding":{"x":{"datum":4.6,"type":"quantitative"},"y":{"datum":21.5,"type":"quantitative"},"text":{"field":"t"}}}
]
},
{
"width":781,"height":20,
"data":{"name":"sep"},
"mark":{"type":"rule","color":"black","strokeWidth":1.5},
"encoding":{"x":{"field":"s","type":"quantitative","scale":{"domain":[-1.22,500.3],"nice":false,"zero":false},"axis":null}}
},
{
"width":781,"height":15,
"layer":[
{"data":{"name":"sep"},"mark":{"type":"rule","color":"black","strokeWidth":1.5},
"encoding":{"x":{"field":"s","type":"quantitative","scale":{"domain":[-1.22,500.3],"nice":false,"zero":false},"axis":null}}},
{"data":{"name":"yr"},"mark":{"type":"text","align":"center","baseline":"middle","fontSize":13,"font":"Liberation Sans","color":"black","dy":1},
"encoding":{"x":{"field":"m","type":"quantitative"},"text":{"field":"y"}}}
]
}
]
}
